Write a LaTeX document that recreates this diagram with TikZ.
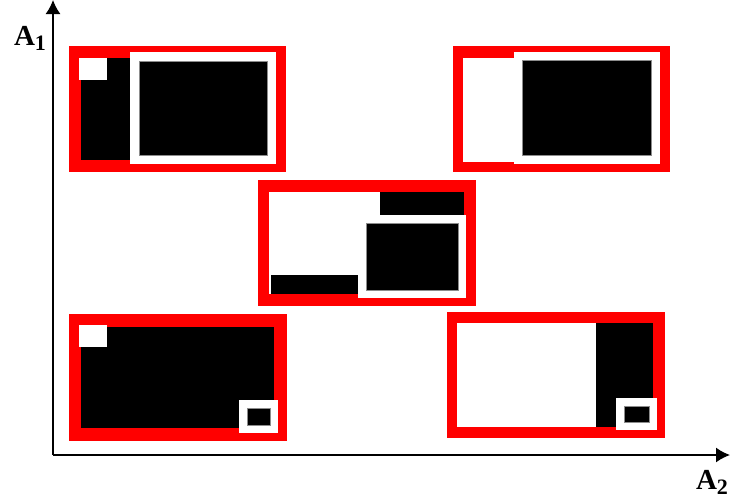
\documentclass[tikz,border=0pt]{standalone}
\usepackage{fontspec}
\setmainfont{Liberation Serif}
\usetikzlibrary{arrows.meta}

\tikzset{
  axis/.style={line width=1.6pt,-{Latex[length=14pt,width=15pt]}},
  axislabel/.style={font=\fontsize{29}{34}\selectfont\bfseries,inner sep=0pt},
  blockfill/.style={fill=black,draw=black!45,line width=0.6pt},
}
\newcommand{\axisname}[2]{#1\raisebox{-5pt}{\fontsize{22}{22}\selectfont #2}}

\begin{document}
\begin{tikzpicture}[x=1pt,y=-1pt]
  \useasboundingbox (0,0) rectangle (730,501);

  % axes
  \coordinate (origin) at (53,455);
  \coordinate (a1end) at (53,0);
  \coordinate (a2end) at (730,455);
  \draw[axis] (origin) -- (a1end);
  \draw[axis] (origin) -- (a2end);
  \node[axislabel] (a1) at (30,38) {\axisname{A}{1}};
  \node[axislabel] (a2) at (712,482) {\axisname{A}{2}};

  % red frames: outer box, inner box, inside colour
  \foreach \xa/\ya/\xb/\yb/\xc/\yc/\xd/\yd/\inside in {
    69/46/286/172/81/58/276/160/black,
    453/46/670/172/463/58/660/162/white,
    258/180/476/306/269/192/464/294/white,
    69/314/287/441/81/327/274/428/black,
    447/312/665/438/457/323/653/427/white} {
    \fill[red] (\xa,\ya) rectangle (\xb,\yb);
    \fill[\inside] (\xc,\yc) rectangle (\xd,\yd);
  }

  % black blocks
  \foreach \xa/\ya/\xb/\yb in {
    380/192/464/215,
    271/275/358/294,
    596/323/653/427} {
    \fill[black] (\xa,\ya) rectangle (\xb,\yb);
  }

  % white squares in the corners
  \foreach \xa/\ya in {79/58,79/325} {
    \fill[white] (\xa,\ya) rectangle +(28,22);
  }

  % white frames with a black block inside
  \foreach \xa/\ya/\xb/\yb/\pad in {
    130/52/276/164/9,
    514/52/660/164/8.5,
    358/215/466/298/8,
    239/400/278/433/8,
    616/398/657/430/8} {
    \fill[white] (\xa,\ya) rectangle (\xb,\yb);
    \filldraw[blockfill] (\xa+\pad,\ya+\pad) rectangle (\xb-\pad,\yb-\pad);
  }
\end{tikzpicture}
\end{document}
